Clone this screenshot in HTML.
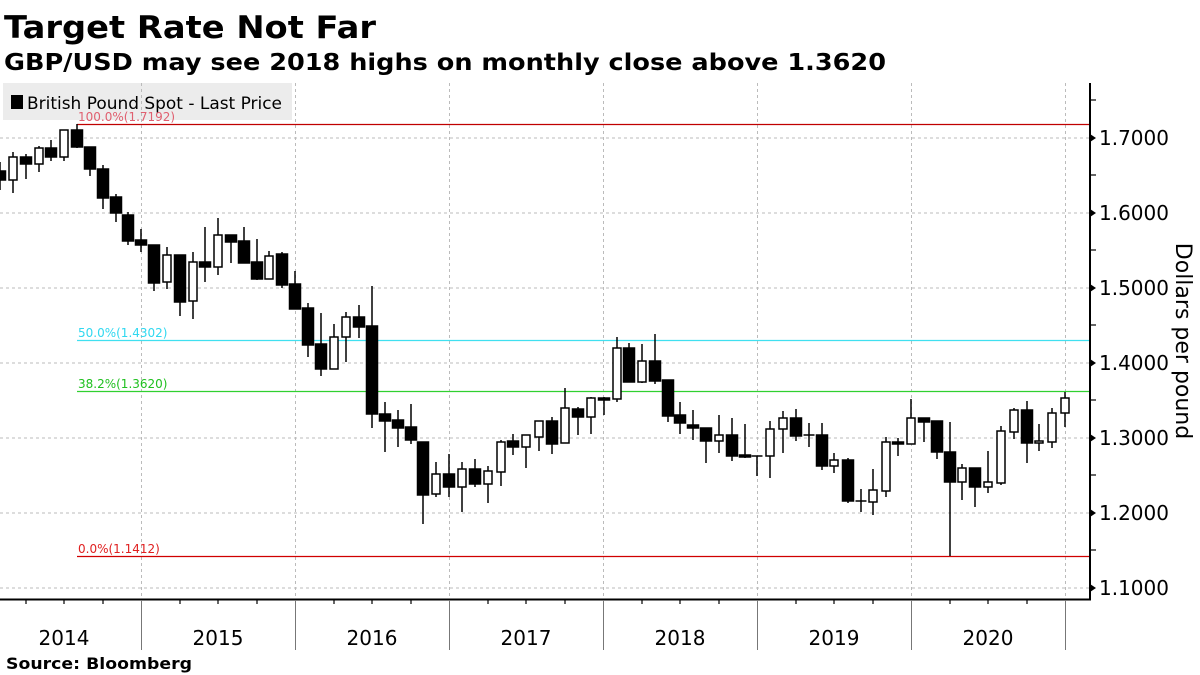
<!DOCTYPE html>
<html><head><meta charset="utf-8"><style>
html,body{margin:0;padding:0;background:#fff;width:1200px;height:675px;overflow:hidden}
svg text{font-family:"DejaVu Sans","Liberation Sans",sans-serif}
</style></head><body>
<svg width="1200" height="675" viewBox="0 0 1200 675" xmlns="http://www.w3.org/2000/svg">
<text x="4" y="38" font-size="31" font-weight="bold" textLength="372" lengthAdjust="spacingAndGlyphs">Target Rate Not Far</text>
<text x="4" y="70" font-size="23" font-weight="bold" textLength="882" lengthAdjust="spacingAndGlyphs">GBP/USD may see 2018 highs on monthly close above 1.3620</text>
<rect x="3" y="83" width="289" height="37" fill="#ececec"/>
<g stroke="#bbb" stroke-width="1" stroke-dasharray="3,3">
<line x1="0" x2="1089" y1="138" y2="138"/><line x1="0" x2="1089" y1="213" y2="213"/><line x1="0" x2="1089" y1="288" y2="288"/><line x1="0" x2="1089" y1="363" y2="363"/><line x1="0" x2="1089" y1="438" y2="438"/><line x1="0" x2="1089" y1="513" y2="513"/><line x1="0" x2="1089" y1="588" y2="588"/>
<line x1="141.5" x2="141.5" y1="83" y2="599"/><line x1="295.5" x2="295.5" y1="83" y2="599"/><line x1="449.5" x2="449.5" y1="83" y2="599"/><line x1="603.5" x2="603.5" y1="83" y2="599"/><line x1="757.5" x2="757.5" y1="83" y2="599"/><line x1="911.5" x2="911.5" y1="83" y2="599"/><line x1="1065.5" x2="1065.5" y1="83" y2="599"/>
</g>
<rect x="11" y="95" width="12" height="14" fill="#000"/>
<text x="27" y="109" font-size="17" textLength="255" lengthAdjust="spacingAndGlyphs">British Pound Spot - Last Price</text>
<line x1="77" x2="1089" y1="124.5" y2="124.5" stroke="#c00000" stroke-width="1.2"/>
<text x="78" y="121" font-size="12" fill="#e06070">100.0%(1.7192)</text>
<line x1="77" x2="1089" y1="340.5" y2="340.5" stroke="#40e0f0" stroke-width="1.2"/>
<text x="78" y="337" font-size="12" fill="#30d8f0">50.0%(1.4302)</text>
<line x1="77" x2="1089" y1="391.5" y2="391.5" stroke="#30d030" stroke-width="1.2"/>
<text x="78" y="388" font-size="12" fill="#20c020">38.2%(1.3620)</text>
<line x1="77" x2="1089" y1="556.5" y2="556.5" stroke="#d00000" stroke-width="1.2"/>
<text x="78" y="553" font-size="12" fill="#e02020">0.0%(1.1412)</text>
<g id="c" stroke="#000" stroke-width="1.5">
<line x1="0" x2="0" y1="162" y2="190"/><rect x="-5.5" y="171" width="11" height="9" fill="#000"/>
<line x1="13" x2="13" y1="152" y2="193"/><rect x="9" y="157" width="8" height="23" fill="#fff"/>
<line x1="26" x2="26" y1="154" y2="179"/><rect x="20.5" y="157" width="11" height="7" fill="#000"/>
<line x1="39" x2="39" y1="146" y2="172"/><rect x="35" y="148" width="8" height="16" fill="#fff"/>
<line x1="51" x2="51" y1="140" y2="161"/><rect x="45.5" y="148" width="11" height="9" fill="#000"/>
<line x1="64" x2="64" y1="130" y2="161"/><rect x="60" y="130" width="8" height="27" fill="#fff"/>
<line x1="77" x2="77" y1="124" y2="148"/><rect x="71.5" y="130" width="11" height="17" fill="#000"/>
<line x1="90" x2="90" y1="147" y2="176"/><rect x="84.5" y="147" width="11" height="22" fill="#000"/>
<line x1="103" x2="103" y1="165" y2="209"/><rect x="97.5" y="169" width="11" height="29" fill="#000"/>
<line x1="116" x2="116" y1="194" y2="222"/><rect x="110.5" y="197" width="11" height="16" fill="#000"/>
<line x1="128" x2="128" y1="212" y2="245"/><rect x="122.5" y="215" width="11" height="26" fill="#000"/>
<line x1="141" x2="141" y1="229" y2="252"/><rect x="135.5" y="240" width="11" height="5" fill="#000"/>
<line x1="154" x2="154" y1="245" y2="291"/><rect x="148.5" y="245" width="11" height="38" fill="#000"/>
<line x1="167" x2="167" y1="247" y2="289"/><rect x="163" y="255" width="8" height="27" fill="#fff"/>
<line x1="180" x2="180" y1="255" y2="316"/><rect x="174.5" y="255" width="11" height="47" fill="#000"/>
<line x1="193" x2="193" y1="252" y2="319"/><rect x="189" y="262" width="8" height="39" fill="#fff"/>
<line x1="205" x2="205" y1="227" y2="282"/><rect x="199.5" y="262" width="11" height="5" fill="#000"/>
<line x1="218" x2="218" y1="218" y2="275"/><rect x="214" y="235" width="8" height="32" fill="#fff"/>
<line x1="231" x2="231" y1="235" y2="263"/><rect x="225.5" y="235" width="11" height="7" fill="#000"/>
<line x1="244" x2="244" y1="227" y2="263"/><rect x="238.5" y="241" width="11" height="22" fill="#000"/>
<line x1="257" x2="257" y1="239" y2="280"/><rect x="251.5" y="262" width="11" height="17" fill="#000"/>
<line x1="269" x2="269" y1="251" y2="279"/><rect x="265" y="256" width="8" height="23" fill="#fff"/>
<line x1="282" x2="282" y1="252" y2="288"/><rect x="276.5" y="254" width="11" height="31" fill="#000"/>
<line x1="295" x2="295" y1="271" y2="309"/><rect x="289.5" y="284" width="11" height="25" fill="#000"/>
<line x1="308" x2="308" y1="303" y2="357"/><rect x="302.5" y="308" width="11" height="37" fill="#000"/>
<line x1="321" x2="321" y1="313" y2="376"/><rect x="315.5" y="344" width="11" height="25" fill="#000"/>
<line x1="334" x2="334" y1="324" y2="369"/><rect x="330" y="337" width="8" height="32" fill="#fff"/>
<line x1="346" x2="346" y1="312" y2="362"/><rect x="342" y="317" width="8" height="20" fill="#fff"/>
<line x1="359" x2="359" y1="305" y2="338"/><rect x="353.5" y="317" width="11" height="10" fill="#000"/>
<line x1="372" x2="372" y1="286" y2="428"/><rect x="366.5" y="326" width="11" height="88" fill="#000"/>
<line x1="385" x2="385" y1="402" y2="452"/><rect x="379.5" y="414" width="11" height="7" fill="#000"/>
<line x1="398" x2="398" y1="410" y2="447"/><rect x="392.5" y="420" width="11" height="8" fill="#000"/>
<line x1="411" x2="411" y1="404" y2="444"/><rect x="405.5" y="427" width="11" height="13" fill="#000"/>
<line x1="423" x2="423" y1="442" y2="524"/><rect x="417.5" y="442" width="11" height="53" fill="#000"/>
<line x1="436" x2="436" y1="462" y2="497"/><rect x="432" y="474" width="8" height="20" fill="#fff"/>
<line x1="449" x2="449" y1="454" y2="497"/><rect x="443.5" y="474" width="11" height="13" fill="#000"/>
<line x1="462" x2="462" y1="462" y2="512"/><rect x="458" y="469" width="8" height="18" fill="#fff"/>
<line x1="475" x2="475" y1="459" y2="487"/><rect x="469.5" y="469" width="11" height="15" fill="#000"/>
<line x1="488" x2="488" y1="466" y2="503"/><rect x="484" y="471" width="8" height="13" fill="#fff"/>
<line x1="501" x2="501" y1="440" y2="486"/><rect x="497" y="442" width="8" height="30" fill="#fff"/>
<line x1="513" x2="513" y1="434" y2="455"/><rect x="507.5" y="441" width="11" height="6" fill="#000"/>
<line x1="526" x2="526" y1="435" y2="468"/><rect x="522" y="435" width="8" height="12" fill="#fff"/>
<line x1="539" x2="539" y1="421" y2="451"/><rect x="535" y="421" width="8" height="16" fill="#fff"/>
<line x1="552" x2="552" y1="417" y2="454"/><rect x="546.5" y="421" width="11" height="23" fill="#000"/>
<line x1="565" x2="565" y1="388" y2="443"/><rect x="561" y="408" width="8" height="35" fill="#fff"/>
<line x1="578" x2="578" y1="407" y2="435"/><rect x="572.5" y="409" width="11" height="8" fill="#000"/>
<line x1="591" x2="591" y1="397" y2="434"/><rect x="587" y="398" width="8" height="19" fill="#fff"/>
<line x1="604" x2="604" y1="397" y2="415"/><rect x="598.5" y="398" width="11" height="2" fill="#000"/>
<line x1="617" x2="617" y1="337" y2="402"/><rect x="613" y="348" width="8" height="51" fill="#fff"/>
<line x1="629" x2="629" y1="343" y2="382"/><rect x="623.5" y="348" width="11" height="34" fill="#000"/>
<line x1="642" x2="642" y1="344" y2="383"/><rect x="638" y="361" width="8" height="21" fill="#fff"/>
<line x1="655" x2="655" y1="334" y2="384"/><rect x="649.5" y="361" width="11" height="20" fill="#000"/>
<line x1="668" x2="668" y1="380" y2="422"/><rect x="662.5" y="380" width="11" height="36" fill="#000"/>
<line x1="680" x2="680" y1="402" y2="434"/><rect x="674.5" y="415" width="11" height="8" fill="#000"/>
<line x1="693" x2="693" y1="410" y2="440"/><rect x="687.5" y="425" width="11" height="3" fill="#000"/>
<line x1="706" x2="706" y1="428" y2="463"/><rect x="700.5" y="428" width="11" height="13" fill="#000"/>
<line x1="719" x2="719" y1="415" y2="453"/><rect x="715" y="435" width="8" height="6" fill="#fff"/>
<line x1="732" x2="732" y1="418" y2="461"/><rect x="726.5" y="435" width="11" height="21" fill="#000"/>
<line x1="745" x2="745" y1="424" y2="458"/><rect x="739.5" y="455" width="11" height="2" fill="#000"/>
<line x1="757" x2="757" y1="456" y2="476"/><line x1="751.5" x2="762.5" y1="456" y2="456"/>
<line x1="770" x2="770" y1="421" y2="478"/><rect x="766" y="429" width="8" height="27" fill="#fff"/>
<line x1="783" x2="783" y1="411" y2="453"/><rect x="779" y="418" width="8" height="11" fill="#fff"/>
<line x1="796" x2="796" y1="409" y2="441"/><rect x="790.5" y="418" width="11" height="18" fill="#000"/>
<line x1="809" x2="809" y1="423" y2="447"/><line x1="803.5" x2="814.5" y1="435" y2="435"/>
<line x1="822" x2="822" y1="423" y2="470"/><rect x="816.5" y="435" width="11" height="31" fill="#000"/>
<line x1="834" x2="834" y1="453" y2="473"/><rect x="830" y="460" width="8" height="6" fill="#fff"/>
<line x1="848" x2="848" y1="458" y2="503"/><rect x="842.5" y="460" width="11" height="41" fill="#000"/>
<line x1="861" x2="861" y1="489" y2="512"/><line x1="855.5" x2="866.5" y1="501" y2="501"/>
<line x1="873" x2="873" y1="469" y2="515"/><rect x="869" y="490" width="8" height="12" fill="#fff"/>
<line x1="886" x2="886" y1="437" y2="497"/><rect x="882" y="442" width="8" height="49" fill="#fff"/>
<line x1="898" x2="898" y1="438" y2="456"/><rect x="892.5" y="442" width="11" height="2" fill="#000"/>
<line x1="911" x2="911" y1="399" y2="444"/><rect x="907" y="418" width="8" height="26" fill="#fff"/>
<line x1="924" x2="924" y1="418" y2="442"/><rect x="918.5" y="418" width="11" height="4" fill="#000"/>
<line x1="937" x2="937" y1="421" y2="459"/><rect x="931.5" y="421" width="11" height="31" fill="#000"/>
<line x1="950" x2="950" y1="422" y2="556"/><rect x="944.5" y="452" width="11" height="30" fill="#000"/>
<line x1="962" x2="962" y1="464" y2="500"/><rect x="958" y="468" width="8" height="14" fill="#fff"/>
<line x1="975" x2="975" y1="468" y2="507"/><rect x="969.5" y="468" width="11" height="19" fill="#000"/>
<line x1="988" x2="988" y1="451" y2="493"/><rect x="984" y="482" width="8" height="5" fill="#fff"/>
<line x1="1001" x2="1001" y1="426" y2="485"/><rect x="997" y="431" width="8" height="52" fill="#fff"/>
<line x1="1014" x2="1014" y1="408" y2="439"/><rect x="1010" y="410" width="8" height="22" fill="#fff"/>
<line x1="1027" x2="1027" y1="401" y2="463"/><rect x="1021.5" y="410" width="11" height="33" fill="#000"/>
<line x1="1039" x2="1039" y1="424" y2="451"/><rect x="1035" y="441" width="8" height="2" fill="#fff"/>
<line x1="1052" x2="1052" y1="408" y2="448"/><rect x="1048" y="413" width="8" height="29" fill="#fff"/>
<line x1="1065" x2="1065" y1="392" y2="427"/><rect x="1061" y="398" width="8" height="15" fill="#fff"/>
</g>
<g stroke="#000" stroke-width="2">
<line x1="0" x2="1091" y1="599.5" y2="599.5"/>
<line x1="1090" x2="1090" y1="83" y2="600"/>
</g>
<g stroke="#000" stroke-width="1.2">
<line x1="1090" x2="1096" y1="100" y2="100"/><line x1="1090" x2="1096" y1="175" y2="175"/><line x1="1090" x2="1096" y1="250" y2="250"/><line x1="1090" x2="1096" y1="325" y2="325"/><line x1="1090" x2="1096" y1="400" y2="400"/><line x1="1090" x2="1096" y1="475" y2="475"/><line x1="1090" x2="1096" y1="550" y2="550"/>
<line x1="26" x2="26" y1="599" y2="604"/><line x1="64" x2="64" y1="599" y2="604"/><line x1="103" x2="103" y1="599" y2="604"/><line x1="180" x2="180" y1="599" y2="604"/><line x1="218" x2="218" y1="599" y2="604"/><line x1="257" x2="257" y1="599" y2="604"/><line x1="334" x2="334" y1="599" y2="604"/><line x1="372" x2="372" y1="599" y2="604"/><line x1="411" x2="411" y1="599" y2="604"/><line x1="488" x2="488" y1="599" y2="604"/><line x1="526" x2="526" y1="599" y2="604"/><line x1="565" x2="565" y1="599" y2="604"/><line x1="642" x2="642" y1="599" y2="604"/><line x1="680" x2="680" y1="599" y2="604"/><line x1="719" x2="719" y1="599" y2="604"/><line x1="796" x2="796" y1="599" y2="604"/><line x1="834" x2="834" y1="599" y2="604"/><line x1="873" x2="873" y1="599" y2="604"/><line x1="950" x2="950" y1="599" y2="604"/><line x1="988" x2="988" y1="599" y2="604"/><line x1="1027" x2="1027" y1="599" y2="604"/>
</g>
<g stroke="#777" stroke-width="1">
<line x1="141.5" x2="141.5" y1="600" y2="650"/><line x1="295.5" x2="295.5" y1="600" y2="650"/><line x1="449.5" x2="449.5" y1="600" y2="650"/><line x1="603.5" x2="603.5" y1="600" y2="650"/><line x1="757.5" x2="757.5" y1="600" y2="650"/><line x1="911.5" x2="911.5" y1="600" y2="650"/><line x1="1065.5" x2="1065.5" y1="600" y2="650"/>
</g>
<g fill="#000">
<path d="M1090 134l6 4-6 4z"/><path d="M1090 209l6 4-6 4z"/><path d="M1090 284l6 4-6 4z"/><path d="M1090 359l6 4-6 4z"/><path d="M1090 434l6 4-6 4z"/><path d="M1090 509l6 4-6 4z"/><path d="M1090 584l6 4-6 4z"/>
</g>
<g font-size="20" fill="#000" font-family="Liberation Sans, sans-serif">
<text x="1099" y="145">1.7000</text><text x="1099" y="220">1.6000</text><text x="1099" y="295">1.5000</text><text x="1099" y="370">1.4000</text><text x="1099" y="445">1.3000</text><text x="1099" y="520">1.2000</text><text x="1099" y="595">1.1000</text>
</g>
<g font-size="20" fill="#000" text-anchor="middle">
<text x="64" y="645">2014</text><text x="218" y="645">2015</text><text x="372" y="645">2016</text><text x="526" y="645">2017</text><text x="680" y="645">2018</text><text x="834" y="645">2019</text><text x="988" y="645">2020</text>
</g>
<text transform="translate(1176,341) rotate(90)" font-size="22" text-anchor="middle">Dollars per pound</text>
<text x="6" y="669" font-size="16" font-weight="bold" textLength="186" lengthAdjust="spacingAndGlyphs">Source: Bloomberg</text>
</svg>
</body></html>
